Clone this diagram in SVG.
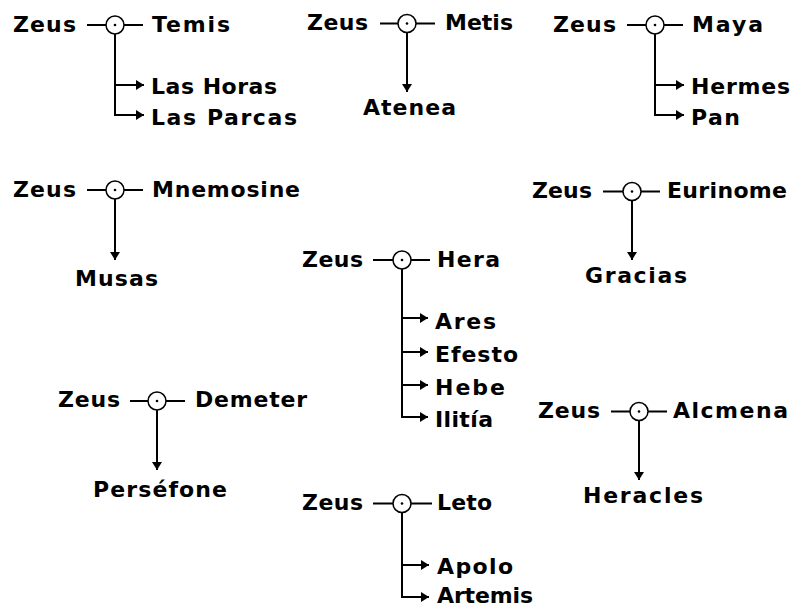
<svg xmlns="http://www.w3.org/2000/svg" width="798" height="608" viewBox="0 0 798 608">
<style>
text{font-family:"DejaVu Sans","Liberation Sans",sans-serif;font-weight:bold;font-size:22px;fill:#000}
.ln{stroke:#000;stroke-width:2;fill:none}
.arr{stroke:#000;stroke-width:2;fill:none;marker-end:url(#ah)}
.u circle.o{fill:#fff;stroke:#000;stroke-width:1.5}
.u circle.d{fill:#000}
</style>
<defs>
<marker id="ah" markerUnits="userSpaceOnUse" markerWidth="10" markerHeight="10" viewBox="0 0 8 10" refX="8" refY="5" orient="auto">
<path d="M0,0 L8,5 L0,10 z" fill="#000"/>
</marker>
</defs>
<rect width="798" height="608" fill="#fff"/>
<g id="connectors">
<!-- Temis -->
<path class="ln" d="M87,25H106M124,25H143M115,34V115H144"/>
<path class="arr" d="M115,85H144"/>
<path class="arr" d="M136,115H144"/>
<!-- Metis -->
<path class="ln" d="M380,23.5H398M416,23.5H435"/>
<path class="arr" d="M407,32.5V92"/>
<!-- Maya -->
<path class="ln" d="M627,25H646M664,25H683M655,34V115H684"/>
<path class="arr" d="M655,85H684"/>
<path class="arr" d="M676,115H684"/>
<!-- Mnemosine -->
<path class="ln" d="M87,190H106M124,190H143"/>
<path class="arr" d="M115,199V260"/>
<!-- Eurinome -->
<path class="ln" d="M603,191.5H623M641,191.5H660"/>
<path class="arr" d="M632,200.5V260"/>
<!-- Hera -->
<path class="ln" d="M373,260H393M411,260H430M402,269V417H428"/>
<path class="arr" d="M402,318H428"/>
<path class="arr" d="M402,352H428"/>
<path class="arr" d="M402,385H428"/>
<path class="arr" d="M420,417H428"/>
<!-- Demeter -->
<path class="ln" d="M130,401H148M166,401H185"/>
<path class="arr" d="M157,410V470"/>
<!-- Alcmena -->
<path class="ln" d="M611,411.5H630M648,411.5H667"/>
<path class="arr" d="M639,420.5V480"/>
<!-- Leto -->
<path class="ln" d="M373,503.5H393M411,503.5H432M402,512.5V597H429"/>
<path class="arr" d="M402,565H429"/>
<path class="arr" d="M421,597H429"/>
</g>
<!-- union nodes -->
<g id="u-temis" class="u"><circle class="o" cx="115" cy="25" r="9"/><circle class="d" cx="115" cy="25" r="1.3"/></g>
<g id="u-metis" class="u"><circle class="o" cx="407" cy="23.5" r="9"/><circle class="d" cx="407" cy="23.5" r="1.3"/></g>
<g id="u-maya" class="u"><circle class="o" cx="655" cy="25" r="9"/><circle class="d" cx="655" cy="25" r="1.3"/></g>
<g id="u-mnemosine" class="u"><circle class="o" cx="115" cy="190" r="9"/><circle class="d" cx="115" cy="190" r="1.3"/></g>
<g id="u-eurinome" class="u"><circle class="o" cx="632" cy="191.5" r="9"/><circle class="d" cx="632" cy="191.5" r="1.3"/></g>
<g id="u-hera" class="u"><circle class="o" cx="402" cy="260" r="9"/><circle class="d" cx="402" cy="260" r="1.3"/></g>
<g id="u-demeter" class="u"><circle class="o" cx="157" cy="401" r="9"/><circle class="d" cx="157" cy="401" r="1.3"/></g>
<g id="u-alcmena" class="u"><circle class="o" cx="639" cy="411.5" r="9"/><circle class="d" cx="639" cy="411.5" r="1.3"/></g>
<g id="u-leto" class="u"><circle class="o" cx="402" cy="503.5" r="9"/><circle class="d" cx="402" cy="503.5" r="1.3"/></g>
<!-- person nodes -->
<g id="zeus-1"><text x="13" y="31.5" textLength="63" lengthAdjust="spacing">Zeus</text></g>
<g id="temis"><text x="152" y="31.5" textLength="78" lengthAdjust="spacing">Temis</text></g>
<g id="las-horas"><text x="151" y="94" textLength="126" lengthAdjust="spacing">Las Horas</text></g>
<g id="las-parcas"><text x="151" y="124.5" textLength="146" lengthAdjust="spacing">Las Parcas</text></g>
<g id="zeus-2"><text x="307" y="30" textLength="61" lengthAdjust="spacing">Zeus</text></g>
<g id="metis"><text x="445" y="30" textLength="68" lengthAdjust="spacing">Metis</text></g>
<g id="atenea"><text x="363" y="115" textLength="93" lengthAdjust="spacing">Atenea</text></g>
<g id="zeus-3"><text x="553" y="31.5" textLength="63" lengthAdjust="spacing">Zeus</text></g>
<g id="maya"><text x="692" y="31.5" textLength="71" lengthAdjust="spacing">Maya</text></g>
<g id="hermes"><text x="691" y="94" textLength="99" lengthAdjust="spacing">Hermes</text></g>
<g id="pan"><text x="691" y="124.5" textLength="49" lengthAdjust="spacing">Pan</text></g>
<g id="zeus-4"><text x="13" y="196.5" textLength="63" lengthAdjust="spacing">Zeus</text></g>
<g id="mnemosine"><text x="152" y="196.5" textLength="148" lengthAdjust="spacing">Mnemosine</text></g>
<g id="musas"><text x="75" y="286" textLength="83" lengthAdjust="spacing">Musas</text></g>
<g id="zeus-5"><text x="532" y="198" textLength="60" lengthAdjust="spacing">Zeus</text></g>
<g id="eurinome"><text x="667" y="198" textLength="120" lengthAdjust="spacing">Eurinome</text></g>
<g id="gracias"><text x="585" y="283" textLength="102" lengthAdjust="spacing">Gracias</text></g>
<g id="zeus-6"><text x="302" y="266.5" textLength="61" lengthAdjust="spacing">Zeus</text></g>
<g id="hera"><text x="437" y="266.5" textLength="63" lengthAdjust="spacing">Hera</text></g>
<g id="ares"><text x="435" y="328.5" textLength="61" lengthAdjust="spacing">Ares</text></g>
<g id="efesto"><text x="435" y="362" textLength="83" lengthAdjust="spacing">Efesto</text></g>
<g id="hebe"><text x="435" y="395" textLength="70" lengthAdjust="spacing">Hebe</text></g>
<g id="ilitia"><text x="435" y="427" textLength="58" lengthAdjust="spacing">Ilitía</text></g>
<g id="zeus-7"><text x="58" y="407" textLength="62" lengthAdjust="spacing">Zeus</text></g>
<g id="demeter"><text x="195" y="407" textLength="112" lengthAdjust="spacing">Demeter</text></g>
<g id="persefone"><text x="93" y="497" textLength="134" lengthAdjust="spacing">Perséfone</text></g>
<g id="zeus-8"><text x="538" y="417.5" textLength="62" lengthAdjust="spacing">Zeus</text></g>
<g id="alcmena"><text x="673" y="417.5" textLength="115" lengthAdjust="spacing">Alcmena</text></g>
<g id="heracles"><text x="583" y="503" textLength="120" lengthAdjust="spacing">Heracles</text></g>
<g id="zeus-9"><text x="302" y="510" textLength="61" lengthAdjust="spacing">Zeus</text></g>
<g id="leto"><text x="437" y="510" textLength="55" lengthAdjust="spacing">Leto</text></g>
<g id="apolo"><text x="437" y="574" textLength="76" lengthAdjust="spacing">Apolo</text></g>
<g id="artemis"><text x="437" y="602.5" textLength="96" lengthAdjust="spacing">Artemis</text></g>
</svg>
